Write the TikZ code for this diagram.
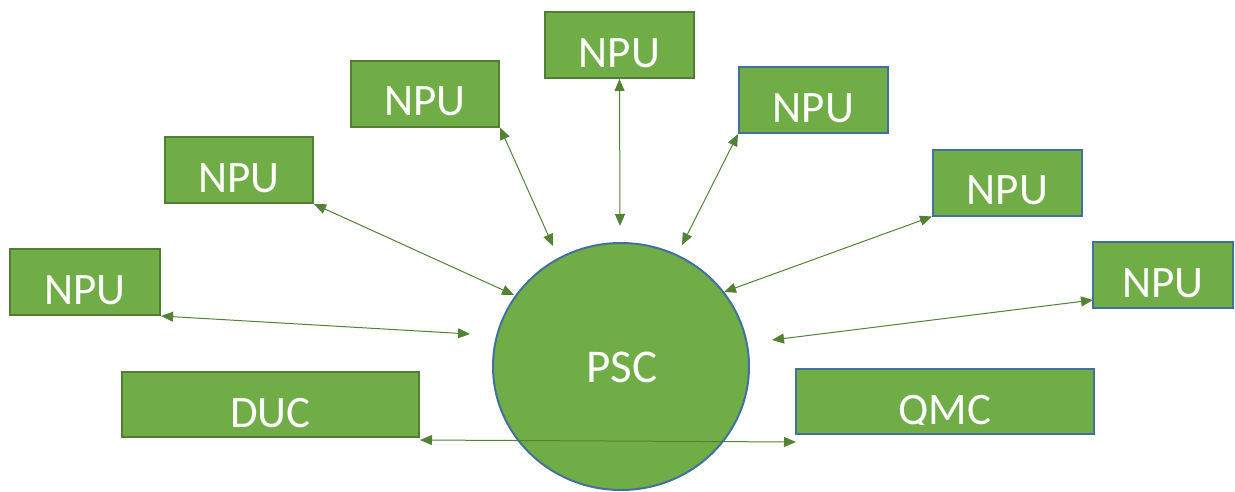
\documentclass[tikz,border=0pt]{standalone}
\usepackage{fontspec}
\setmainfont{Carlito}
\usetikzlibrary{arrows.meta,shapes.geometric,calc}
\definecolor{gfill}{HTML}{70AD47}
\definecolor{gdark}{HTML}{507E32}
\definecolor{bblue}{HTML}{41719C}
\definecolor{arr}{HTML}{548235}
% label whose glyph bottoms are cut at the baseline, as in the reference
\newcommand{\cutlabel}[4]{%
  \begin{scope}
    \clip ($(#2.north west)$) rectangle ($(#2.north east)+(0,#4+0.6)$);
    \node[lbl] (#1) at ($(#2.north)+(0,#4)$) {#3};
  \end{scope}}
\begin{document}
\begin{tikzpicture}[x=1pt,y=-1pt,
  box/.style={rectangle,fill=gfill,line width=2pt,minimum width=#1,minimum height=66pt,inner sep=0pt},
  gbox/.style={box=#1,draw=gdark},
  bbox/.style={box=#1,draw=bblue},
  lbl/.style={text=white,anchor=base,inner sep=0pt,font=\fontsize{45}{45}\selectfont},
  link/.style={arr,line width=1pt,{Triangle[length=12pt,width=10pt]}-{Triangle[length=12pt,width=10pt]}}]
\useasboundingbox (0,0) rectangle (1235,491);
% boxes
\node[gbox=149pt] (n1) at (619.5,45) {};
\node[gbox=148pt] (n2) at (425,93.5) {};
\node[gbox=148pt] (n3) at (239,170) {};
\node[gbox=150pt] (n4) at (85,282) {};
\node[bbox=149pt] (n5) at (813.5,100) {};
\node[bbox=149pt] (n6) at (1007.5,182.5) {};
\node[bbox=140pt] (n7) at (1163,275) {};
\node[gbox=297pt,minimum height=65pt] (duc) at (270.5,404.5) {};
\node[bbox=298pt,minimum height=65pt] (qmc) at (945,401.5) {};
\node[ellipse,fill=gfill,draw=bblue,line width=2pt,minimum width=256pt,minimum height=247pt,inner sep=0pt] (psc) at (621,366.5) {};
% labels
\cutlabel{t1}{n1}{NPU}{56}
\cutlabel{t2}{n2}{NPU}{56}
\cutlabel{t3}{n3}{NPU}{56}
\cutlabel{t4}{n4}{NPU}{56}
\cutlabel{t5}{n5}{NPU}{56}
\cutlabel{t6}{n6}{NPU}{56}
\cutlabel{t7}{n7}{NPU}{56}
\cutlabel{t8}{duc}{DUC}{56}
\cutlabel{t9}{qmc}{QMC}{56}
\node[lbl,font=\fontsize{47}{47}\selectfont] (tp) at (622,382) {PSC};
% connector ends
\coordinate (e1) at (620,226);
\coordinate (e2) at (553,246);
\coordinate (e3) at (514,295);
\coordinate (e4) at (470,334);
\coordinate (e5) at (682,245);
\coordinate (e6) at (724,292);
\coordinate (e7) at (772,340);
\coordinate (s7) at (1093,300);
\coordinate (sd) at (420,440);
\coordinate (sq) at (796,442);
% connectors
\draw[link] (n1.south) -- (e1);
\draw[link] (n2.south east) -- (e2);
\draw[link] (n3.south east) -- (e3);
\draw[link] (n4.south east) -- (e4);
\draw[link] (n5.south west) -- (e5);
\draw[link] (n6.south west) -- (e6);
\draw[link] (s7) -- (e7);
\draw[link] (sd) -- (sq);
\end{tikzpicture}
\end{document}
